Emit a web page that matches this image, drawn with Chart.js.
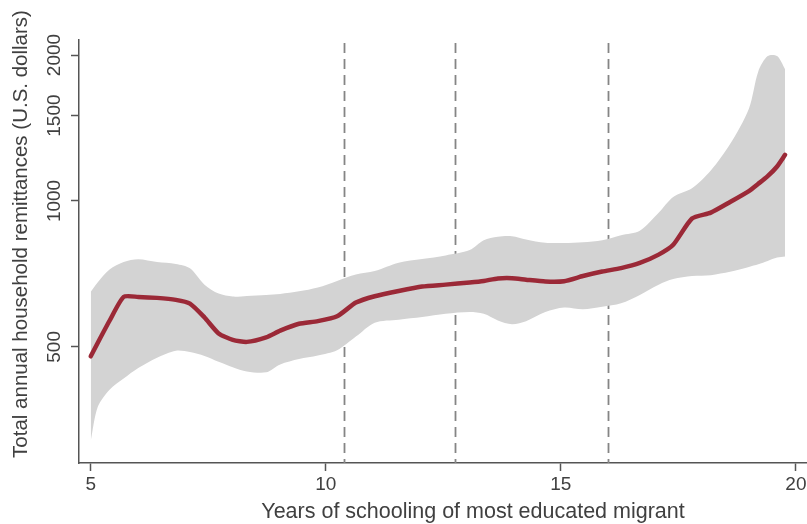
<!DOCTYPE html>
<html>
<head>
<meta charset="utf-8">
<script src="https://cdn.jsdelivr.net/npm/chart.js@4.4.1/dist/chart.umd.min.js"></script>
<style>
  html, body { margin: 0; padding: 0; background: #fff; overflow: hidden; }
  #wrap { position: absolute; left: 0; top: 0; width: 830px; height: 524px; }
</style>
</head>
<body>
<div id="wrap"><canvas id="c" width="830" height="524"></canvas></div>
<script>
// Years of schooling of the most educated migrant (x grid shared by all series)
const years = [5.0, 5.15, 5.4, 5.7, 6.01, 6.41, 6.81, 7.11, 7.42, 7.72, 8.02, 8.32, 8.73, 9.03,
  9.43, 9.83, 10.24, 10.64, 11.04, 11.55, 12.05, 12.55, 13.06, 13.36, 13.66, 13.96, 14.26,
  14.67, 15.07, 15.47, 15.88, 16.28, 16.68, 17.08, 17.39, 17.79, 18.19, 18.6, 19.0, 19.2,
  19.4, 19.6, 19.77];

// Fitted total annual household remittances (U.S. dollars)
const fitted = [478, 510, 566, 634, 634, 631, 625, 614, 575, 533, 517, 512, 523, 540,
  558, 565, 578, 617, 636, 652, 666, 672, 679, 684, 692, 693, 688,
  682, 683, 700, 715, 727, 745, 775, 812, 920, 946, 995, 1048, 1085,
  1125, 1178, 1245];

// Upper and lower bounds of the confidence band
const upperBound = [650, 680, 722, 748, 758, 748, 741, 726, 672, 644, 635, 637, 640, 643,
  651, 663, 684, 705, 717, 746, 759, 772, 792, 830, 844, 846, 833,
  820, 819, 822, 830, 850, 868, 945, 1019, 1062, 1155, 1310, 1550, 1850,
  1990, 1990, 1870];
const lowerBound = [320, 376, 408, 430, 452, 475, 491, 488, 479, 466, 454, 445, 443, 460,
  472, 480, 492, 525, 561, 569, 576, 585, 590, 585, 567, 557, 565,
  590, 603, 598, 605, 615, 640, 672, 690, 700, 703, 714, 731, 740,
  752, 764, 768];

// Schooling cut-offs marked with dashed reference lines
const cutoffs = [10.38, 12.74, 16.0];

// Axis tick values
const xTicks = [5, 10, 15, 20];
const yTicks = [500, 1000, 1500, 2000];

const FONT = '"Liberation Sans", Arial, Helvetica, sans-serif';
const TEXT = '#404040';
const AXIS = '#555555';

const pts = arr => arr.map((v, i) => ({ x: years[i], y: v }));

// Dashed vertical lines, drawn beneath the shaded band
const cutoffLines = {
  id: 'cutoffLines',
  beforeDatasetsDraw(chart) {
    const { ctx, chartArea, scales } = chart;
    ctx.save();
    ctx.strokeStyle = '#858585';
    ctx.lineWidth = 1.8;
    ctx.setLineDash([10, 6]);
    cutoffs.forEach(v => {
      const px = Math.round(scales.x.getPixelForValue(v)) + 0.5;
      ctx.beginPath();
      ctx.moveTo(px, chartArea.top + 3);
      ctx.lineTo(px, chartArea.bottom);
      ctx.stroke();
    });
    ctx.restore();
  }
};

// Rotated y tick labels and the axis titles
const axisText = {
  id: 'axisText',
  afterDraw(chart) {
    const { ctx, scales } = chart;
    ctx.save();
    ctx.fillStyle = TEXT;
    ctx.textAlign = 'center';
    ctx.textBaseline = 'alphabetic';
    ctx.font = '19px ' + FONT;
    yTicks.forEach(v => {
      const py = scales.y.getPixelForValue(v);
      ctx.save();
      ctx.translate(60, py);
      ctx.rotate(-Math.PI / 2);
      ctx.fillText(String(v), 0, 0);
      ctx.restore();
    });
    ctx.font = '20.5px ' + FONT;
    ctx.save();
    ctx.translate(26.5, 234);
    ctx.rotate(-Math.PI / 2);
    ctx.fillText('Total annual household remittances (U.S. dollars)', 0, 0);
    ctx.restore();
    ctx.font = '21.5px ' + FONT;
    ctx.fillText('Years of schooling of most educated migrant', 473, 518);
    ctx.restore();
  }
};

new Chart(document.getElementById('c'), {
  type: 'line',
  data: {
    datasets: [
      {
        data: pts(fitted),
        borderColor: '#9b2937',
        borderWidth: 4.5,
        borderCapStyle: 'round',
        borderJoinStyle: 'round',
        pointRadius: 0,
        tension: 0.2,
        fill: false
      },
      {
        data: pts(upperBound),
        borderWidth: 0,
        pointRadius: 0,
        tension: 0.3,
        backgroundColor: '#d3d3d3',
        fill: '+1'
      },
      {
        data: pts(lowerBound),
        borderWidth: 0,
        pointRadius: 0,
        tension: 0.3,
        fill: false
      }
    ]
  },
  options: {
    responsive: false,
    devicePixelRatio: 1,
    animation: false,
    layout: { padding: { top: 40, right: 20, left: 0, bottom: 0 } },
    plugins: { legend: { display: false }, tooltip: { enabled: false } },
    scales: {
      x: {
        type: 'linear',
        min: 4.75,
        max: 20.3,
        afterBuildTicks: s => { s.ticks = xTicks.map(v => ({ value: v })); },
        afterFit: s => { s.height = 61; },
        border: { display: true, color: AXIS, width: 1.5 },
        grid: { display: true, drawOnChartArea: false, drawTicks: true, tickLength: 8, tickColor: AXIS, tickWidth: 1.5 },
        ticks: { color: TEXT, font: { size: 19, family: FONT }, padding: 2, maxRotation: 0, autoSkip: false }
      },
      y: {
        type: 'logarithmic',
        min: 288,
        max: 2148,
        afterBuildTicks: s => { s.ticks = yTicks.map(v => ({ value: v })); },
        afterFit: s => { s.width = 79; },
        border: { display: true, color: AXIS, width: 1.5 },
        grid: { display: true, drawOnChartArea: false, drawTicks: true, tickLength: 8, tickColor: AXIS, tickWidth: 1.5 },
        ticks: { display: false }
      }
    }
  },
  plugins: [cutoffLines, axisText]
});
</script>
</body>
</html>
